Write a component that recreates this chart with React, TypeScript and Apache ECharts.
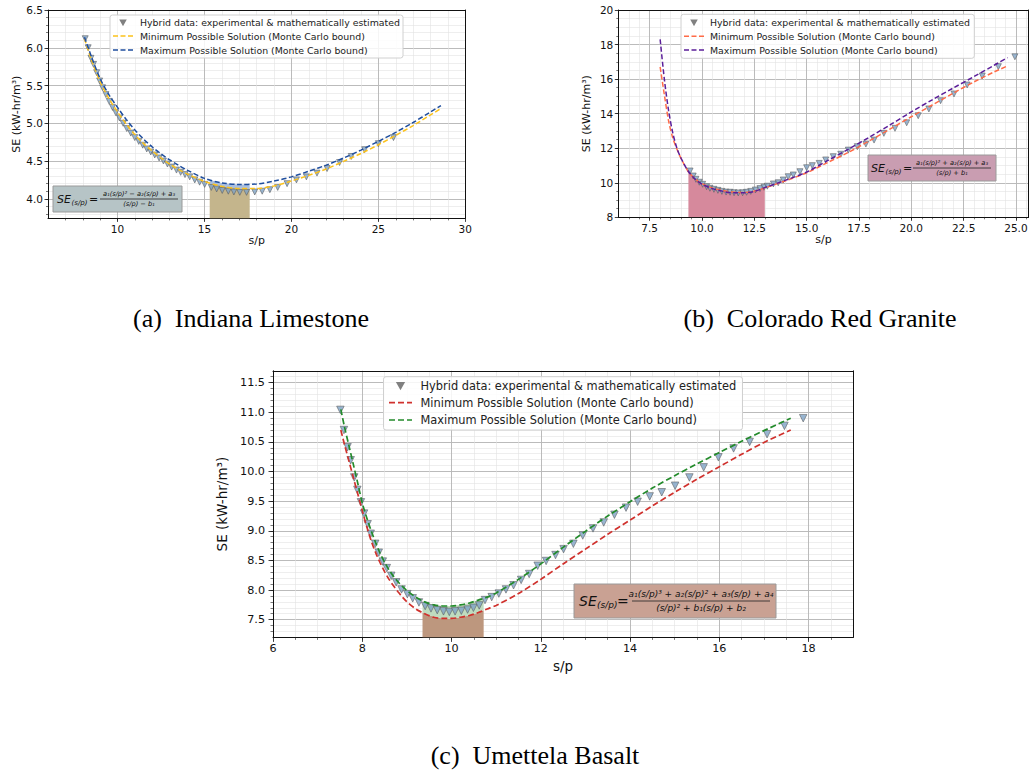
import React, { useEffect, useRef } from "react";
import * as echarts from "echarts";

// ---------------- (a) Indiana Limestone ----------------
const A_CURVE_X = [8.1, 8.5, 9, 9.5, 10, 10.5, 11, 11.5, 12, 12.5, 13, 13.5, 14, 15, 16, 17, 18, 19, 20, 21, 22, 23, 24, 25, 26, 27, 28, 28.6];
const A_MIN_Y = [6.12, 5.84, 5.55, 5.33, 5.15, 4.99, 4.85, 4.73, 4.63, 4.54, 4.46, 4.39, 4.33, 4.23, 4.165, 4.135, 4.135, 4.17, 4.235, 4.31, 4.395, 4.495, 4.6, 4.715, 4.84, 4.97, 5.11, 5.195];
const A_MAX_Y = [6.14, 5.88, 5.59, 5.38, 5.21, 5.05, 4.91, 4.79, 4.685, 4.595, 4.515, 4.445, 4.38, 4.27, 4.21, 4.19, 4.195, 4.235, 4.29, 4.365, 4.445, 4.54, 4.645, 4.76, 4.88, 5.01, 5.15, 5.235];
const A_TRI_X = [8.14, 8.31, 8.47, 8.62, 8.8, 8.97, 9.14, 9.33, 9.52, 9.71, 9.9, 10.11, 10.32, 10.53, 10.76, 10.99, 11.22, 11.45, 11.68, 11.91, 12.14, 12.39, 12.64, 12.87, 13.11, 13.39, 13.63, 13.88, 14.15, 14.44, 14.72, 15.01, 15.39, 15.7, 16.02, 16.37, 16.69, 17.03, 17.42, 17.89, 18.32, 18.76, 19.21, 19.75, 20.29, 20.86, 21.47, 22.05, 22.77, 23.44, 24.21, 25.0, 25.87];
const A_TRI_Y = [6.12, 6.0, 5.86, 5.78, 5.67, 5.56, 5.47, 5.38, 5.29, 5.21, 5.14, 5.07, 5.0, 4.93, 4.87, 4.81, 4.76, 4.71, 4.66, 4.62, 4.58, 4.54, 4.5, 4.46, 4.42, 4.38, 4.35, 4.32, 4.29, 4.25, 4.22, 4.19, 4.15, 4.13, 4.11, 4.1, 4.09, 4.085, 4.085, 4.09, 4.1, 4.12, 4.15, 4.2, 4.25, 4.29, 4.34, 4.4, 4.48, 4.56, 4.65, 4.73, 4.81];
const A_FILL_X = [15.3, 15.6, 16.0, 16.4, 16.8, 17.2, 17.6];
const A_FILL_LOW = [4.2, 4.185, 4.165, 4.15, 4.14, 4.135, 4.133];
const A_FILL_HIGH = [4.25, 4.232, 4.21, 4.198, 4.191, 4.19, 4.191];
const A_X_TICKS = [10, 15, 20, 25, 30];
const A_Y_TICKS = [4.0, 4.5, 5.0, 5.5, 6.0, 6.5];

// ---------------- (b) Colorado Red Granite ----------------
const B_CURVE_X = [8.0, 8.2, 8.4, 8.6, 8.8, 9.0, 9.35, 9.7, 10, 10.5, 11, 11.5, 12, 12.5, 13, 14, 15, 16, 17, 18, 19, 20, 21, 22, 23, 24, 24.6];
const B_MIN_Y = [16.7, 15.1, 13.6, 12.6, 11.95, 11.4, 10.64, 10.2, 9.95, 9.7, 9.55, 9.46, 9.44, 9.52, 9.7, 10.12, 10.58, 11.17, 11.76, 12.43, 13.12, 13.82, 14.5, 15.18, 15.84, 16.44, 16.76];
const B_MAX_Y = [18.3, 16.0, 14.2, 12.9, 12.0, 11.42, 10.65, 10.18, 9.92, 9.66, 9.5, 9.42, 9.42, 9.5, 9.72, 10.15, 10.62, 11.28, 11.95, 12.64, 13.36, 14.1, 14.8, 15.48, 16.15, 16.83, 17.24];
const B_TRI_X = [9.43, 9.58, 9.71, 9.87, 10.03, 10.22, 10.38, 10.57, 10.76, 10.95, 11.15, 11.34, 11.53, 11.73, 11.94, 12.13, 12.33, 12.55, 12.77, 12.96, 13.12, 13.41, 13.64, 13.88, 14.12, 14.36, 14.68, 15.0, 15.27, 15.6, 15.91, 16.27, 16.63, 16.99, 17.42, 17.83, 18.22, 18.69, 19.22, 19.78, 20.33, 20.84, 21.4, 22.04, 22.67, 23.39, 24.16, 24.95];
const B_TRI_Y = [10.68, 10.39, 10.2, 10.03, 9.91, 9.77, 9.68, 9.62, 9.56, 9.5, 9.46, 9.45, 9.42, 9.41, 9.42, 9.45, 9.5, 9.58, 9.66, 9.74, 9.8, 9.93, 10.0, 10.16, 10.35, 10.45, 10.64, 10.87, 10.99, 11.12, 11.32, 11.51, 11.65, 11.89, 12.09, 12.24, 12.47, 12.86, 13.15, 13.47, 13.88, 14.27, 14.75, 15.14, 15.66, 16.18, 16.72, 17.29];
const B_FILL_X = [9.35, 9.7, 10.0, 10.5, 11.0, 11.5, 12.0, 12.5, 13.0];
const B_FILL_Y = [10.64, 10.2, 9.95, 9.7, 9.55, 9.46, 9.44, 9.52, 9.7];
const B_X_TICKS = [7.5, 10, 12.5, 15, 17.5, 20, 22.5, 25];
const B_Y_TICKS = [8, 10, 12, 14, 16, 18, 20];

// ---------------- (c) Umettela Basalt ----------------
const C_CURVE_X = [7.52, 7.6, 7.7, 7.8, 7.9, 8.0, 8.1, 8.2, 8.3, 8.4, 8.5, 8.6, 8.7, 8.8, 8.9, 9.0, 9.2, 9.4, 9.6, 9.8, 10.0, 10.2, 10.4, 10.6, 10.8, 11.0, 11.5, 12.0, 12.5, 13.0, 13.5, 14.0, 14.5, 15.0, 15.5, 16.0, 16.5, 17.0, 17.6];
const C_MIN_Y = [10.7, 10.46, 10.18, 9.9, 9.62, 9.34, 9.07, 8.83, 8.63, 8.46, 8.31, 8.18, 8.07, 7.97, 7.88, 7.8, 7.68, 7.6, 7.54, 7.52, 7.52, 7.54, 7.57, 7.62, 7.68, 7.74, 7.94, 8.18, 8.44, 8.69, 8.94, 9.18, 9.42, 9.65, 9.87, 10.08, 10.29, 10.49, 10.7];
const C_MAX_Y = [11.05, 10.76, 10.44, 10.12, 9.8, 9.47, 9.22, 9.0, 8.8, 8.62, 8.47, 8.34, 8.23, 8.14, 8.06, 7.99, 7.88, 7.8, 7.75, 7.73, 7.73, 7.75, 7.78, 7.83, 7.88, 7.95, 8.18, 8.44, 8.72, 8.99, 9.25, 9.49, 9.72, 9.93, 10.13, 10.32, 10.51, 10.69, 10.9];
const C_TRI_X = [7.51, 7.59, 7.67, 7.74, 7.82, 7.89, 7.97, 8.04, 8.12, 8.19, 8.29, 8.37, 8.46, 8.55, 8.65, 8.76, 8.88, 9.01, 9.13, 9.27, 9.41, 9.54, 9.68, 9.82, 9.95, 10.08, 10.22, 10.36, 10.49, 10.62, 10.75, 10.9, 11.06, 11.22, 11.39, 11.56, 11.74, 11.93, 12.12, 12.33, 12.51, 12.73, 12.94, 13.17, 13.41, 13.65, 13.91, 14.17, 14.44, 14.71, 15.01, 15.33, 15.65, 15.98, 16.32, 16.68, 17.07, 17.46, 17.88];
const C_TRI_Y = [11.04, 10.7, 10.41, 10.19, 9.9, 9.69, 9.48, 9.29, 9.11, 8.95, 8.78, 8.63, 8.48, 8.37, 8.24, 8.13, 8.01, 7.93, 7.86, 7.79, 7.73, 7.69, 7.66, 7.64, 7.63, 7.64, 7.65, 7.67, 7.7, 7.74, 7.83, 7.88, 7.94, 8.01, 8.08, 8.17, 8.27, 8.41, 8.49, 8.59, 8.69, 8.78, 8.92, 9.04, 9.14, 9.27, 9.39, 9.49, 9.58, 9.65, 9.76, 9.9, 10.07, 10.24, 10.39, 10.5, 10.63, 10.77, 10.9];
const C_FILL_X = [9.35, 9.6, 9.8, 10.0, 10.2, 10.4, 10.6, 10.72];
const C_FILL_LOW = [7.62, 7.55, 7.52, 7.52, 7.54, 7.57, 7.62, 7.66];
const C_FILL_HIGH = [7.81, 7.75, 7.73, 7.73, 7.75, 7.78, 7.83, 7.86];
const C_X_TICKS = [6, 8, 10, 12, 14, 16, 18];
const C_Y_TICKS = [7.5, 8.0, 8.5, 9.0, 9.5, 10.0, 10.5, 11.0, 11.5];

const LEGEND_LABELS = [
  "Hybrid data: experimental & mathematically estimated",
  "Minimum Possible Solution (Monte Carlo bound)",
  "Maximum Possible Solution (Monte Carlo bound)",
];
const Y_NAME = "SE (kW-hr/m³)";
const X_NAME = "s/p";

const FONT = "DejaVu Sans";
const SERIF = "Liberation Serif";
const MINOR_GRID = "#e3e3e3";
const MAJOR_GRID = "#b4b4b4";

const range = (a: number, b: number, s: number) => {
  const out: number[] = [];
  const n = Math.round((b - a) / s);
  for (let i = 0; i <= n; i++) out.push(+(a + i * s).toFixed(6));
  return out;
};
const zip = (xs: number[], ys: number[]) => xs.map((x, i) => [x, ys[i]]);

type Panel = {
  grid: { left: number; top: number; width: number; height: number };
  x: [number, number];
  y: [number, number];
  xTicks: number[];
  yTicks: number[];
  xMinor: number[];
  yMinor: number[];
  xDec: number;
  yDec: number;
  tickFont: number;
  nameFont: number;
  majorLen: number;
  minorLen: number;
  xMargin: number;
  yMargin: number;
  xNameGap: number;
  yNameGap: number;
  curveX: number[];
  minY: number[];
  maxY: number[];
  triX: number[];
  triY: number[];
  triSize: number;
  minColor: string;
  maxColor: string;
  lineWidth: number;
  dash: number[];
  underPoly: number[][];
  underColor: string;
  bandPoly: number[][] | null;
  bandColor: string;
};

const PANELS: Panel[] = [
  {
    grid: { left: 48, top: 10, width: 417.3, height: 208.4 },
    x: [6, 30],
    y: [3.74, 6.5],
    xTicks: A_X_TICKS,
    yTicks: A_Y_TICKS,
    xMinor: range(7, 29, 1),
    yMinor: range(3.8, 6.4, 0.1),
    xDec: 0,
    yDec: 1,
    tickFont: 10.5,
    nameFont: 11,
    majorLen: 3.5,
    minorLen: 2,
    xMargin: 5,
    yMargin: 5,
    xNameGap: 17,
    yNameGap: 26,
    curveX: A_CURVE_X,
    minY: A_MIN_Y,
    maxY: A_MAX_Y,
    triX: A_TRI_X,
    triY: A_TRI_Y,
    triSize: 6,
    minColor: "#fcc21b",
    maxColor: "#1f4e9e",
    lineWidth: 1.5,
    dash: [5, 2.5],
    underPoly: [[A_FILL_X[0], 3.74], ...zip(A_FILL_X, A_FILL_LOW), [A_FILL_X[A_FILL_X.length - 1], 3.74]],
    underColor: "#c4b58c",
    bandPoly: [...zip(A_FILL_X, A_FILL_LOW), ...zip(A_FILL_X, A_FILL_HIGH).reverse()],
    bandColor: "#a9bfe0",
  },
  {
    grid: { left: 618.3, top: 10, width: 410.2, height: 207.3 },
    x: [6, 25.6],
    y: [8, 20],
    xTicks: B_X_TICKS,
    yTicks: B_Y_TICKS,
    xMinor: range(6.5, 25.5, 0.5),
    yMinor: range(8.5, 19.5, 0.5),
    xDec: 1,
    yDec: 0,
    tickFont: 10.5,
    nameFont: 11,
    majorLen: 3.5,
    minorLen: 2,
    xMargin: 5,
    yMargin: 5,
    xNameGap: 17,
    yNameGap: 26,
    curveX: B_CURVE_X,
    minY: B_MIN_Y,
    maxY: B_MAX_Y,
    triX: B_TRI_X,
    triY: B_TRI_Y,
    triSize: 6,
    minColor: "#ff6b47",
    maxColor: "#5b1e99",
    lineWidth: 1.5,
    dash: [5, 2.5],
    underPoly: [[B_FILL_X[0], 8], ...zip(B_FILL_X, B_FILL_Y), [B_FILL_X[B_FILL_X.length - 1], 8]],
    underColor: "#d6899c",
    bandPoly: null,
    bandColor: "",
  },
  {
    grid: { left: 273, top: 370.8, width: 580.2, height: 266.6 },
    x: [6, 19],
    y: [7.2, 11.7],
    xTicks: C_X_TICKS,
    yTicks: C_Y_TICKS,
    xMinor: range(6.5, 18.5, 0.5),
    yMinor: range(7.3, 11.6, 0.1),
    xDec: 0,
    yDec: 1,
    tickFont: 11.2,
    nameFont: 13.5,
    majorLen: 4.5,
    minorLen: 2.5,
    xMargin: 6,
    yMargin: 8,
    xNameGap: 22,
    yNameGap: 39,
    curveX: C_CURVE_X,
    minY: C_MIN_Y,
    maxY: C_MAX_Y,
    triX: C_TRI_X,
    triY: C_TRI_Y,
    triSize: 7.5,
    minColor: "#d0312d",
    maxColor: "#238b2b",
    lineWidth: 1.7,
    dash: [6, 3],
    underPoly: [[C_FILL_X[0], 7.2], ...zip(C_FILL_X, C_FILL_LOW), [C_FILL_X[C_FILL_X.length - 1], 7.2]],
    underColor: "#bd977e",
    bandPoly: [...zip(C_FILL_X, C_FILL_LOW), ...zip(C_FILL_X, C_FILL_HIGH).reverse()],
    bandColor: "#bfdcbf",
  },
];

function polySeries(xi: number, yi: number, poly: number[][], color: string) {
  return {
    type: "custom",
    xAxisIndex: xi,
    yAxisIndex: yi,
    silent: true,
    clip: true,
    z: 1,
    data: [poly[0]],
    renderItem: (_p: any, api: any) => ({
      type: "polygon",
      shape: { points: poly.map((pt) => api.coord(pt)) },
      style: { fill: color, stroke: "none" },
    }),
  };
}

function buildOption() {
  const grid: any[] = [];
  const xAxis: any[] = [];
  const yAxis: any[] = [];
  const series: any[] = [];
  PANELS.forEach((p, gi) => {
    grid.push({ ...p.grid, containLabel: false, outerBoundsMode: "none", show: false });
    const xi = xAxis.length;
    const yi = yAxis.length;
    const labelStyle = { fontSize: p.tickFont, fontFamily: FONT, color: "#111" };
    const nameStyle = { fontSize: p.nameFont, fontFamily: FONT, color: "#111" };
    // x minor
    xAxis.push({
      type: "value", gridIndex: gi, min: p.x[0], max: p.x[1], position: "bottom",
      axisLine: { show: false, onZero: false },
      axisTick: { show: true, length: p.minorLen, customValues: p.xMinor, lineStyle: { color: "#222", width: 0.6 } },
      axisLabel: { show: false },
      splitLine: { show: true, lineStyle: { color: MINOR_GRID, width: 0.6 } },
    });
    // x major
    xAxis.push({
      type: "value", gridIndex: gi, min: p.x[0], max: p.x[1], position: "bottom",
      axisLine: { show: true, onZero: false, lineStyle: { color: "#111", width: 1 } },
      axisTick: { show: true, length: p.majorLen, customValues: p.xTicks, lineStyle: { color: "#111", width: 0.8 } },
      axisLabel: { show: true, customValues: p.xTicks, formatter: (v: number) => v.toFixed(p.xDec), margin: p.xMargin, ...labelStyle },
      splitLine: { show: true, lineStyle: { color: MAJOR_GRID, width: 0.9 } },
      name: X_NAME, nameLocation: "middle", nameGap: p.xNameGap, nameTextStyle: nameStyle,
    });
    // top spine
    xAxis.push({
      type: "value", gridIndex: gi, min: p.x[0], max: p.x[1], position: "top",
      axisLine: { show: true, onZero: false, lineStyle: { color: "#111", width: 1 } },
      axisTick: { show: false }, axisLabel: { show: false }, splitLine: { show: false },
    });
    // y minor
    yAxis.push({
      type: "value", gridIndex: gi, min: p.y[0], max: p.y[1], position: "left",
      axisLine: { show: false, onZero: false },
      axisTick: { show: true, length: p.minorLen, customValues: p.yMinor, lineStyle: { color: "#222", width: 0.6 } },
      axisLabel: { show: false },
      splitLine: { show: true, lineStyle: { color: MINOR_GRID, width: 0.6 } },
    });
    // y major
    yAxis.push({
      type: "value", gridIndex: gi, min: p.y[0], max: p.y[1], position: "left",
      axisLine: { show: true, onZero: false, lineStyle: { color: "#111", width: 1 } },
      axisTick: { show: true, length: p.majorLen, customValues: p.yTicks, lineStyle: { color: "#111", width: 0.8 } },
      axisLabel: { show: true, customValues: p.yTicks, formatter: (v: number) => v.toFixed(p.yDec), margin: p.yMargin, ...labelStyle },
      splitLine: { show: true, lineStyle: { color: MAJOR_GRID, width: 0.9 } },
      name: Y_NAME, nameLocation: "middle", nameGap: p.yNameGap, nameTextStyle: nameStyle,
    });
    // right spine
    yAxis.push({
      type: "value", gridIndex: gi, min: p.y[0], max: p.y[1], position: "right",
      axisLine: { show: true, onZero: false, lineStyle: { color: "#111", width: 1 } },
      axisTick: { show: false }, axisLabel: { show: false }, splitLine: { show: false },
    });

    const X = xi + 1;
    const Y = yi + 1;
    series.push(polySeries(X, Y, p.underPoly, p.underColor));
    if (p.bandPoly) series.push(polySeries(X, Y, p.bandPoly, p.bandColor));
    series.push({
      type: "scatter", name: LEGEND_LABELS[0], xAxisIndex: X, yAxisIndex: Y,
      data: zip(p.triX, p.triY), symbol: "triangle", symbolRotate: 180, symbolSize: p.triSize,
      itemStyle: { color: "#7ea3c6", borderColor: "#5a5a5a", borderWidth: 0.7 }, z: 3,
    });
    series.push({
      type: "line", name: LEGEND_LABELS[1], xAxisIndex: X, yAxisIndex: Y,
      data: zip(p.curveX, p.minY), showSymbol: false, symbol: "none", smooth: 0.3,
      lineStyle: { color: p.minColor, width: p.lineWidth, type: p.dash }, z: 4,
    });
    series.push({
      type: "line", name: LEGEND_LABELS[2], xAxisIndex: X, yAxisIndex: Y,
      data: zip(p.curveX, p.maxY), showSymbol: false, symbol: "none", smooth: 0.3,
      lineStyle: { color: p.maxColor, width: p.lineWidth, type: p.dash }, z: 4,
    });
  });

  const els: any[] = [];
  const legend = (bx: number, by: number, bw: number, bh: number, rows: number[], lx1: number, lx2: number, tx: number, fs: number, ts: number, c1: string, c2: string, lw: number, dash: number[]) => {
    els.push({ type: "rect", z: 100, shape: { x: bx, y: by, width: bw, height: bh, r: 2.5 }, style: { fill: "rgba(255,255,255,0.85)", stroke: "#d0d0d0", lineWidth: 1 } });
    const cx = (lx1 + lx2) / 2;
    els.push({ type: "polygon", z: 101, shape: { points: [[cx - ts, rows[0] - ts * 0.85], [cx + ts, rows[0] - ts * 0.85], [cx, rows[0] + ts * 0.95]] }, style: { fill: "#808080" } });
    els.push({ type: "line", z: 101, shape: { x1: lx1, y1: rows[1], x2: lx2, y2: rows[1] }, style: { stroke: c1, lineWidth: lw, lineDash: dash } });
    els.push({ type: "line", z: 101, shape: { x1: lx1, y1: rows[2], x2: lx2, y2: rows[2] }, style: { stroke: c2, lineWidth: lw, lineDash: dash } });
    rows.forEach((ry, i) => {
      els.push({ type: "text", z: 101, x: tx, y: ry, style: { text: LEGEND_LABELS[i], fontSize: fs, fontFamily: FONT, fill: "#222", align: "left", verticalAlign: "middle" } });
    });
  };
  legend(110, 15, 293, 43, [22.7, 36, 50], 113, 133, 140, 9.4, 3.8, PANELS[0].minColor, PANELS[0].maxColor, 1.5, [5, 2.5]);
  legend(681, 14.3, 293.3, 44, [22.7, 36.2, 50], 684, 704, 710, 9.4, 3.8, PANELS[1].minColor, PANELS[1].maxColor, 1.5, [5, 2.5]);
  legend(383.5, 376.7, 359, 53.3, [386, 402.7, 420], 389, 412, 420.5, 11.4, 4.6, PANELS[2].minColor, PANELS[2].maxColor, 1.7, [6, 3]);

  const eq = (bx: number, by: number, bw: number, bh: number, fill: string, seSize: number, subSize: number, fracSize: number, seX: number, subX: number, eqX: number, fx1: number, fx2: number, num: string, den: string) => {
    const cy = by + bh / 2;
    els.push({ type: "rect", z: 100, shape: { x: bx, y: by, width: bw, height: bh }, style: { fill, stroke: "#9a9a9a", lineWidth: 1 } });
    els.push({ type: "text", z: 101, x: seX, y: cy, style: { text: "SE", fontSize: seSize, fontStyle: "italic", fontFamily: FONT, fill: "#111", align: "left", verticalAlign: "middle" } });
    els.push({ type: "text", z: 101, x: subX, y: cy + seSize * 0.32, style: { text: "(s/p)", fontSize: subSize, fontStyle: "italic", fontFamily: FONT, fill: "#111", align: "left", verticalAlign: "middle" } });
    els.push({ type: "text", z: 101, x: eqX, y: cy, style: { text: "=", fontSize: seSize, fontFamily: FONT, fill: "#111", align: "left", verticalAlign: "middle" } });
    const fc = (fx1 + fx2) / 2;
    els.push({ type: "text", z: 101, x: fc, y: cy - fracSize * 0.75, style: { text: num, fontSize: fracSize, fontStyle: "italic", fontFamily: FONT, fill: "#111", align: "center", verticalAlign: "middle" } });
    els.push({ type: "line", z: 101, shape: { x1: fx1, y1: cy, x2: fx2, y2: cy }, style: { stroke: "#222", lineWidth: 0.8 } });
    els.push({ type: "text", z: 101, x: fc, y: cy + fracSize * 0.8, style: { text: den, fontSize: fracSize, fontStyle: "italic", fontFamily: FONT, fill: "#111", align: "center", verticalAlign: "middle" } });
  };
  eq(53, 186, 129, 26, "#b6c4c6", 11, 7, 6.6, 57, 71.5, 89, 100, 178, "a₁(s/p)² − a₂(s/p) + a₃", "(s/p) − b₁");
  eq(868, 155, 128, 26, "#c99db1", 11, 7, 6.6, 871, 885.5, 903, 913, 991, "a₁(s/p)² + a₂(s/p) + a₃", "(s/p) + b₁");
  eq(574, 584, 202, 34, "#c9a193", 14, 9, 9, 579, 597, 617, 632, 770, "a₁(s/p)³ + a₂(s/p)² + a₃(s/p) + a₄", "(s/p)² + b₁(s/p) + b₂");

  const caption = (x: number, y: number, text: string) =>
    els.push({ type: "text", z: 101, x, y, style: { text, fontSize: 26, fontFamily: SERIF, fill: "#000", align: "center", verticalAlign: "middle" } });
  caption(251, 318, "(a)  Indiana Limestone");
  caption(820, 318, "(b)  Colorado Red Granite");
  caption(535, 755, "(c)  Umettela Basalt");

  return {
    animation: false,
    backgroundColor: "#ffffff",
    textStyle: { fontFamily: FONT },
    grid,
    xAxis,
    yAxis,
    series,
    graphic: { elements: els },
  };
}

export default function App() {
  const ref = useRef<HTMLDivElement>(null);
  useEffect(() => {
    if (!ref.current) return;
    const chart = echarts.init(ref.current, undefined, { renderer: "svg" });
    chart.setOption(buildOption() as any);
    return () => chart.dispose();
  }, []);
  return <div ref={ref} style={{ position: "absolute", left: 0, top: 0, width: 1030, height: 774, background: "#fff" }} />;
}
